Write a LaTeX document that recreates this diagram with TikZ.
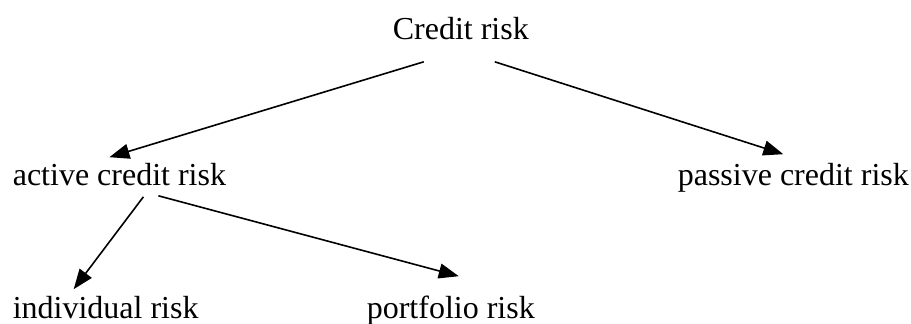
\documentclass[tikz,border=0pt]{standalone}
\usepackage{fontspec}
\setmainfont{Liberation Serif}
\usetikzlibrary{arrows.meta}
\begin{document}
\begin{tikzpicture}[x=1pt, y=-1pt, font=\fontsize{32}{38}\selectfont, line width=1.6pt, line join=round, >={Triangle[length=20pt,width=15pt]}, lbl/.style={anchor=base west, inner sep=0pt, text height=22pt, text depth=7pt}]
\useasboundingbox (0,0) rectangle (911,324);
\node[lbl] (crd) at (392,39) {Credit risk};
\node[lbl] (act) at (12,185) {active credit risk};
\node[lbl] (pas) at (677,185) {passive credit risk};
\node[lbl] (ind) at (12,318) {individual risk};
\node[lbl] (por) at (366,318) {portfolio risk};
\draw[->] ([xshift=-37pt,yshift=-15pt]crd.south) -- ([xshift=-10pt,yshift=5pt]act.north);
\draw[->] ([xshift=34pt,yshift=-15pt]crd.south) -- ([xshift=-10pt,yshift=8pt]pas.north);
\draw[->] ([xshift=24pt,yshift=-4pt]act.south) -- ([xshift=-32pt,yshift=6pt]ind.north);
\draw[->] ([xshift=39pt,yshift=-3pt]act.south) -- ([xshift=8pt,yshift=19pt]por.north);
\end{tikzpicture}
\end{document}
